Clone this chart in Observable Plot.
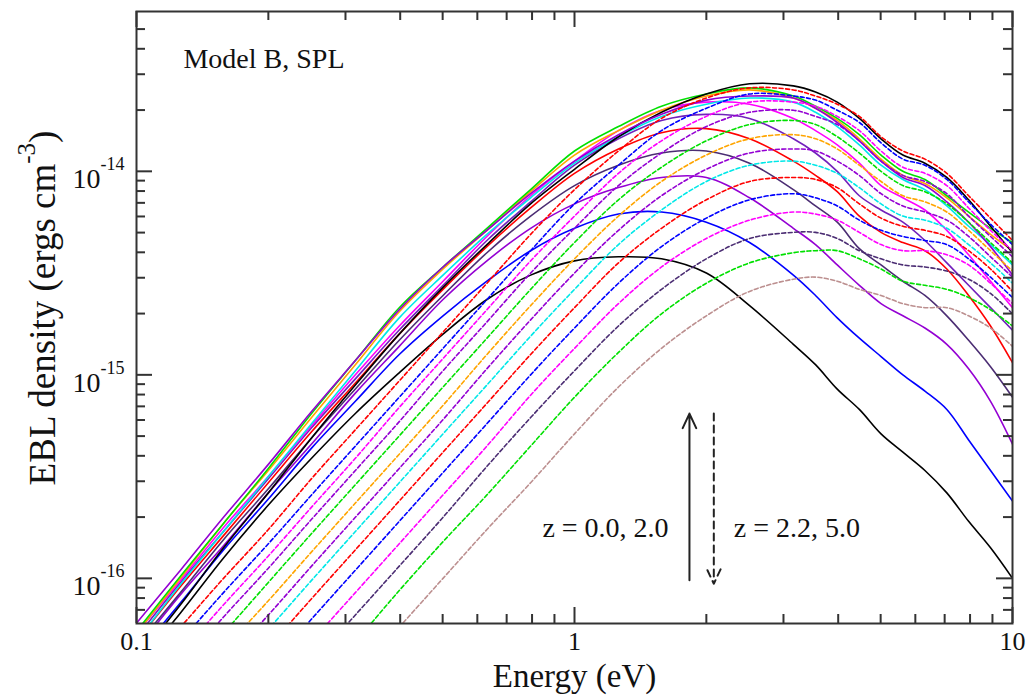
<!DOCTYPE html>
<html><head><meta charset="utf-8">
<script src="https://cdn.jsdelivr.net/npm/d3@7"></script>
<script src="https://cdn.jsdelivr.net/npm/@observablehq/plot@0.6"></script>
<style>body{margin:0;background:#fff} svg{display:block}</style>
</head><body><div id="chart"></div>
<script>
// Photon energy grid (eV)
const energy = [0.1,0.126,0.158,0.2,0.251,0.316,0.398,0.501,0.631,0.794,1.0,1.26,1.58,2.0,2.51,3.16,3.55,3.98,4.47,5.01,5.62,6.31,7.08,7.94,8.91,10.0];

// log10 EBL density (ergs cm^-3), solid curves (low redshift)
const s1  = [-16.43,-16.17,-15.90,-15.64,-15.41,-15.19,-14.99,-14.80,-14.63,-14.51,-14.44,-14.42,-14.43,-14.50,-14.66,-14.85,-14.95,-15.07,-15.17,-15.29,-15.38,-15.47,-15.58,-15.72,-15.85,-16.00];
const s2  = [-16.38,-16.12,-15.86,-15.61,-15.36,-15.13,-14.90,-14.71,-14.54,-14.39,-14.28,-14.21,-14.20,-14.25,-14.35,-14.51,-14.61,-14.72,-14.82,-14.91,-15.00,-15.08,-15.17,-15.32,-15.47,-15.62];
const s3  = [-16.35,-16.08,-15.84,-15.58,-15.34,-15.09,-14.86,-14.63,-14.44,-14.28,-14.16,-14.08,-14.03,-14.03,-14.13,-14.28,-14.36,-14.46,-14.56,-14.65,-14.71,-14.77,-14.85,-14.97,-15.13,-15.34];
const s4  = [-16.33,-16.07,-15.81,-15.56,-15.31,-15.07,-14.83,-14.61,-14.40,-14.22,-14.07,-13.97,-13.91,-13.90,-13.96,-14.09,-14.17,-14.25,-14.38,-14.46,-14.54,-14.61,-14.71,-14.83,-14.96,-15.11];
const s5  = [-16.31,-16.04,-15.79,-15.53,-15.28,-15.04,-14.80,-14.58,-14.37,-14.18,-14.01,-13.89,-13.81,-13.79,-13.84,-13.95,-14.02,-14.10,-14.22,-14.30,-14.35,-14.39,-14.48,-14.61,-14.76,-14.94];
const s6  = [-16.29,-16.02,-15.77,-15.51,-15.26,-15.02,-14.78,-14.56,-14.34,-14.15,-13.97,-13.84,-13.75,-13.72,-13.74,-13.84,-13.91,-14.00,-14.12,-14.19,-14.25,-14.34,-14.45,-14.56,-14.67,-14.78];
const s7  = [-16.27,-16.01,-15.75,-15.50,-15.25,-15.00,-14.76,-14.54,-14.32,-14.12,-13.95,-13.80,-13.70,-13.66,-13.67,-13.74,-13.80,-13.87,-13.96,-14.07,-14.13,-14.19,-14.29,-14.41,-14.54,-14.67];
const s8  = [-16.31,-16.03,-15.77,-15.50,-15.24,-14.98,-14.72,-14.51,-14.31,-14.13,-13.96,-13.83,-13.73,-13.67,-13.64,-13.66,-13.71,-13.78,-13.87,-13.97,-14.04,-14.09,-14.17,-14.27,-14.36,-14.46];
const s9  = [-16.27,-16.00,-15.73,-15.47,-15.21,-14.95,-14.69,-14.48,-14.29,-14.10,-13.92,-13.80,-13.70,-13.63,-13.60,-13.64,-13.69,-13.75,-13.84,-13.94,-14.02,-14.06,-14.13,-14.22,-14.31,-14.39];
const s10 = [-16.26,-15.99,-15.73,-15.46,-15.19,-14.93,-14.67,-14.47,-14.28,-14.09,-13.90,-13.78,-13.68,-13.62,-13.59,-13.63,-13.68,-13.74,-13.82,-13.92,-14.00,-14.04,-14.12,-14.20,-14.28,-14.35];
const s11 = [-16.40,-16.13,-15.85,-15.58,-15.31,-15.05,-14.80,-14.57,-14.36,-14.16,-13.99,-13.83,-13.71,-13.62,-13.57,-13.58,-13.61,-13.66,-13.74,-13.84,-13.92,-13.96,-14.03,-14.14,-14.27,-14.40];
const s12 = [-16.22,-15.96,-15.70,-15.44,-15.18,-14.93,-14.68,-14.47,-14.29,-14.11,-13.95,-13.82,-13.72,-13.65,-13.63,-13.64,-13.69,-13.76,-13.85,-13.95,-14.03,-14.07,-14.15,-14.25,-14.37,-14.51];

// log10 EBL density, dashed curves (high redshift)
const d1  = [-16.48,-16.24,-16.00,-15.76,-15.51,-15.27,-15.03,-14.79,-14.55,-14.31,-14.09,-13.90,-13.74,-13.64,-13.59,-13.60,-13.63,-13.67,-13.73,-13.83,-13.90,-13.94,-14.01,-14.12,-14.23,-14.34];
const d2  = [-16.56,-16.31,-16.07,-15.83,-15.59,-15.35,-15.11,-14.87,-14.63,-14.39,-14.16,-13.97,-13.80,-13.69,-13.62,-13.63,-13.65,-13.70,-13.76,-13.86,-13.94,-13.97,-14.04,-14.15,-14.26,-14.36];
const d3  = [-16.61,-16.37,-16.13,-15.89,-15.65,-15.41,-15.16,-14.92,-14.68,-14.44,-14.22,-14.01,-13.85,-13.73,-13.66,-13.66,-13.68,-13.73,-13.80,-13.90,-13.98,-14.01,-14.07,-14.18,-14.29,-14.39];
const d4  = [-16.67,-16.43,-16.19,-15.95,-15.71,-15.47,-15.23,-14.98,-14.74,-14.50,-14.28,-14.07,-13.91,-13.78,-13.71,-13.70,-13.73,-13.77,-13.85,-13.95,-14.02,-14.05,-14.11,-14.22,-14.32,-14.42];
const d5  = [-16.75,-16.51,-16.27,-16.02,-15.78,-15.54,-15.30,-15.06,-14.82,-14.58,-14.35,-14.14,-13.98,-13.85,-13.77,-13.75,-13.77,-13.83,-13.91,-14.00,-14.07,-14.10,-14.16,-14.25,-14.35,-14.45];
const d6  = [-16.83,-16.59,-16.35,-16.11,-15.87,-15.63,-15.39,-15.15,-14.90,-14.66,-14.43,-14.22,-14.05,-13.92,-13.84,-13.82,-13.84,-13.89,-13.97,-14.05,-14.12,-14.15,-14.20,-14.29,-14.39,-14.49];
const d7  = [-16.90,-16.66,-16.42,-16.18,-15.94,-15.70,-15.46,-15.22,-14.97,-14.73,-14.50,-14.29,-14.12,-13.99,-13.91,-13.89,-13.90,-13.95,-14.02,-14.11,-14.17,-14.20,-14.24,-14.32,-14.42,-14.52];
const d8  = [-16.97,-16.73,-16.49,-16.25,-16.01,-15.77,-15.53,-15.29,-15.05,-14.81,-14.58,-14.36,-14.19,-14.05,-13.97,-13.95,-13.97,-14.01,-14.08,-14.16,-14.22,-14.24,-14.28,-14.36,-14.45,-14.55];
const d9  = [-17.07,-16.83,-16.59,-16.34,-16.10,-15.86,-15.62,-15.38,-15.14,-14.90,-14.67,-14.45,-14.28,-14.14,-14.05,-14.03,-14.04,-14.08,-14.16,-14.23,-14.27,-14.29,-14.32,-14.39,-14.48,-14.59];
const d10 = [-17.17,-16.93,-16.69,-16.44,-16.20,-15.96,-15.72,-15.48,-15.24,-15.00,-14.77,-14.55,-14.37,-14.23,-14.14,-14.11,-14.13,-14.17,-14.24,-14.29,-14.32,-14.34,-14.36,-14.43,-14.52,-14.62];
const d11 = [-17.27,-17.03,-16.79,-16.55,-16.31,-16.07,-15.83,-15.59,-15.35,-15.10,-14.87,-14.65,-14.47,-14.33,-14.24,-14.20,-14.21,-14.24,-14.30,-14.36,-14.39,-14.39,-14.41,-14.46,-14.55,-14.65];
const d12 = [-17.38,-17.14,-16.90,-16.66,-16.42,-16.18,-15.94,-15.70,-15.45,-15.21,-14.98,-14.76,-14.58,-14.43,-14.33,-14.30,-14.30,-14.33,-14.39,-14.43,-14.46,-14.47,-14.49,-14.53,-14.60,-14.70];
const d13 = [-17.50,-17.26,-17.02,-16.78,-16.54,-16.31,-16.06,-15.82,-15.59,-15.35,-15.11,-14.89,-14.70,-14.55,-14.45,-14.40,-14.39,-14.39,-14.43,-14.48,-14.54,-14.56,-14.58,-14.62,-14.68,-14.76];
const d14 = [-17.66,-17.43,-17.19,-16.95,-16.71,-16.48,-16.24,-16.00,-15.76,-15.53,-15.29,-15.06,-14.87,-14.71,-14.59,-14.53,-14.52,-14.54,-14.58,-14.61,-14.65,-14.67,-14.67,-14.71,-14.77,-14.86];

const solidSeries  = [s1,s2,s3,s4,s5,s6,s7,s8,s9,s10,s11,s12];
const solidColors  = ["#000000","#0000ff","#9400d3","#4b2d73","#ff0000","#7221bc","#ff00ff","#00e8e8","#ffa500","#00e000","#000000","#9400d3"];
const dashedSeries = [d1,d2,d3,d4,d5,d6,d7,d8,d9,d10,d11,d12,d13,d14];
const dashedColors = ["#ff0000","#0000ff","#ff00ff","#9400d3","#00e000","#ffa500","#9400d3","#00e8e8","#ff0000","#0000ff","#ff00ff","#4b2d73","#00e000","#bc8f8f"];

// axis ticks
const xMajor = [0.1, 1, 10];
const xMinor = [0.2,0.3,0.4,0.5,0.6,0.7,0.8,0.9,2,3,4,5,6,7,8,9];
const yMajor = [1e-16, 1e-15, 1e-14];
const yMinor = [7e-17,8e-17,9e-17,2e-16,3e-16,4e-16,5e-16,6e-16,7e-16,8e-16,9e-16,2e-15,3e-15,4e-15,5e-15,6e-15,7e-15,8e-15,9e-15,2e-14,3e-14,4e-14,5e-14];
const xTickLabels = ["0.1", "1", "10"];
const yTickExponents = ["-16", "-15", "-14"];

// annotations (data units)
const arrows = [
  {x: 1.83, y1: 9.8e-17, y2: 6.45e-16, dashed: false},
  {x: 2.08, y1: 6.45e-16, y2: 9.4e-17, dashed: true}
];
const zLabels = [
  {x: 1.64, y: 1.76e-16, text: "z = 0.0, 2.0", anchor: "end"},
  {x: 2.31, y: 1.76e-16, text: "z = 2.2, 5.0", anchor: "start"}
];
const modelLabel = {x: 0.128, y: 3.55e-14, text: "Model B, SPL"};

function toRows(series, colors, kind) {
  const rows = [];
  series.forEach((vals, i) => vals.forEach((v, j) => rows.push({E: energy[j], V: Math.pow(10, v), id: kind + i, color: colors[i]})));
  return rows;
}
const solidRows = toRows(solidSeries, solidColors, "s");
const dashedRows = toRows(dashedSeries, dashedColors, "d");

const W = 1032, H = 696, mL = 136, mR = 20, mT = 11, mB = 73;
const iw = W - mL - mR, ih = H - mT - mB;
const font = "Liberation Serif, Times New Roman, serif";

const chart = Plot.plot({
  width: W, height: H,
  marginLeft: mL, marginRight: mR, marginTop: mT, marginBottom: mB,
  style: {fontFamily: font, background: "#fff"},
  x: {type: "log", domain: [0.1, 10], axis: null},
  y: {type: "log", domain: [6e-17, 6.1e-14], axis: null},
  color: {type: "identity"},
  marks: [
    Plot.line(solidRows, {x: "E", y: "V", z: "id", stroke: "color", strokeWidth: 1.6, curve: "catmull-rom", clip: true}),
    Plot.line(dashedRows, {x: "E", y: "V", z: "id", stroke: "color", strokeWidth: 1.6, strokeDasharray: "4,2.5", curve: "catmull-rom", clip: true}),
    // ticks, inward on all four sides
    Plot.ruleX(xMajor, {stroke: "#333", strokeWidth: 2, insetTop: ih - 16}),
    Plot.ruleX(xMinor, {stroke: "#333", strokeWidth: 2, insetTop: ih - 9}),
    Plot.ruleX(xMajor, {stroke: "#333", strokeWidth: 2, insetBottom: ih - 16}),
    Plot.ruleX(xMinor, {stroke: "#333", strokeWidth: 2, insetBottom: ih - 9}),
    Plot.ruleY(yMajor, {stroke: "#333", strokeWidth: 2, insetRight: iw - 16}),
    Plot.ruleY(yMinor, {stroke: "#333", strokeWidth: 2, insetRight: iw - 9}),
    Plot.ruleY(yMajor, {stroke: "#333", strokeWidth: 2, insetLeft: iw - 16}),
    Plot.ruleY(yMinor, {stroke: "#333", strokeWidth: 2, insetLeft: iw - 9}),
    Plot.frame({stroke: "#333", strokeWidth: 2}),
    // tick labels
    Plot.text(xMajor, {x: d => d, y: 6e-17, text: (d, i) => xTickLabels[i], dy: 18, fontSize: 26, fill: "#111"}),
    Plot.text(yMajor, {x: 0.1, y: d => d, text: () => "10", textAnchor: "end", dx: -36, dy: 8, fontSize: 28, fill: "#111"}),
    Plot.text(yMajor, {x: 0.1, y: d => d, text: (d, i) => yTickExponents[i], textAnchor: "start", dx: -36, dy: -7, fontSize: 18, fill: "#111"}),
    // annotations
    Plot.text([modelLabel], {x: "x", y: "y", text: "text", textAnchor: "start", fontSize: 28, fill: "#111"}),
    Plot.text(zLabels.filter(d => d.anchor === "end"), {x: "x", y: "y", text: "text", textAnchor: "end", fontSize: 28, fill: "#111"}),
    Plot.text(zLabels.filter(d => d.anchor === "start"), {x: "x", y: "y", text: "text", textAnchor: "start", fontSize: 28, fill: "#111"}),
    Plot.arrow(arrows.filter(d => !d.dashed), {x: "x", y1: "y1", y2: "y2", stroke: "#222", strokeWidth: 2, headLength: 12, headAngle: 50}),
    Plot.arrow(arrows.filter(d => d.dashed), {x: "x", y1: "y1", y2: "y2", stroke: "#222", strokeWidth: 2, strokeDasharray: "7,5", headLength: 12, headAngle: 50}),
    Plot.text(["Energy (eV)"], {frameAnchor: "bottom", lineAnchor: "bottom", dy: 63, fontSize: 33, fill: "#111"})
  ]
});

// y-axis title with a superscript
const NS = "http://www.w3.org/2000/svg";
const t = document.createElementNS(NS, "text");
t.setAttribute("transform", "translate(55,308) rotate(-90)");
t.setAttribute("text-anchor", "middle");
t.setAttribute("font-family", font);
t.setAttribute("font-size", "37");
t.setAttribute("fill", "#111");
const parts = [["EBL density (ergs cm", null, null], ["-3", "-20", "25"], [")", "20", null]];
for (const [txt, dy, fs] of parts) {
  const sp = document.createElementNS(NS, "tspan");
  sp.textContent = txt;
  if (dy) sp.setAttribute("dy", dy);
  if (fs) sp.setAttribute("font-size", fs);
  t.appendChild(sp);
}
chart.appendChild(t);

document.getElementById("chart").appendChild(chart);
</script>
</body></html>
